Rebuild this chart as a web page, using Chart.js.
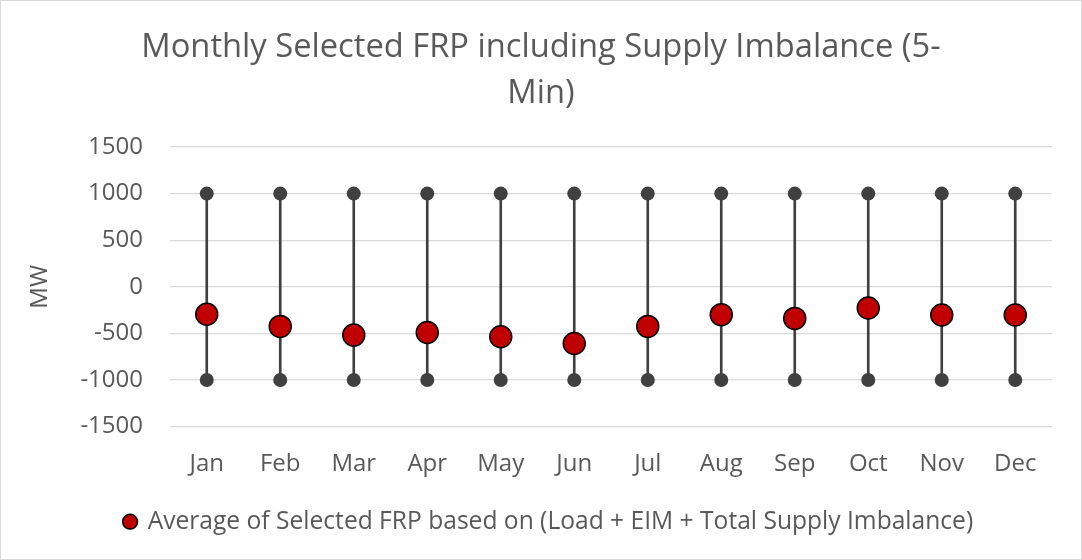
<!DOCTYPE html>
<html>
<head>
<meta charset="utf-8">
<script src="https://cdn.jsdelivr.net/npm/chart.js@4.4.1/dist/chart.umd.min.js"></script>
<style>
  html, body { margin: 0; padding: 0; background: #fff; }
  #wrap { width: 1082px; height: 560px; position: relative; }
</style>
</head>
<body>
<div id="wrap"><canvas id="c" width="1082" height="560"></canvas></div>
<script>
const months = ['Jan','Feb','Mar','Apr','May','Jun','Jul','Aug','Sep','Oct','Nov','Dec'];
const maxValues = [1000, 1000, 1000, 1000, 1000, 1000, 1000, 1000, 1000, 1000, 1000, 1000];
const minValues = [-1000, -1000, -1000, -1000, -1000, -1000, -1000, -1000, -1000, -1000, -1000, -1000];
const avgValues = [-295, -425, -518, -490, -536, -608, -425, -299, -339, -227, -302, -302];
const yTicks = [-1500, -1000, -500, 0, 500, 1000, 1500];

const rangeData = months.map((m, i) => [minValues[i], maxValues[i]]);

const bgBorder = {
  id: 'bgBorder',
  beforeDraw(chart) {
    const ctx = chart.ctx;
    ctx.save();
    ctx.fillStyle = '#ffffff';
    ctx.fillRect(0, 0, chart.width, chart.height);
    ctx.strokeStyle = '#d9d9d9';
    ctx.lineWidth = 1;
    ctx.strokeRect(0.5, 0.5, chart.width - 1, chart.height - 1);
    ctx.restore();
  },
  afterLayout(chart) {
    if (chart.legend) {
      chart.legend.left += 8;
      chart.legend.right += 8;
    }
  }
};

new Chart(document.getElementById('c'), {
  data: {
    labels: months,
    datasets: [
      {
        type: 'line',
        label: 'Average of Selected FRP based on (Load + EIM + Total Supply Imbalance)',
        data: avgValues,
        showLine: false,
        pointRadius: 11,
        pointHoverRadius: 11,
        pointBackgroundColor: '#c00000',
        pointBorderColor: '#000000',
        pointBorderWidth: 1.5,
        backgroundColor: '#c00000',
        borderColor: '#000000',
        borderWidth: 1.5,
        order: 0
      },
      {
        type: 'line',
        label: 'Max',
        data: maxValues,
        showLine: false,
        pointRadius: 7,
        pointBackgroundColor: '#404040',
        pointBorderColor: '#404040',
        pointBorderWidth: 0,
        order: 1
      },
      {
        type: 'line',
        label: 'Min',
        data: minValues,
        showLine: false,
        pointRadius: 7,
        pointBackgroundColor: '#404040',
        pointBorderColor: '#404040',
        pointBorderWidth: 0,
        order: 1
      },
      {
        type: 'bar',
        label: 'Range',
        data: rangeData,
        backgroundColor: '#404040',
        barThickness: 2,
        borderSkipped: false,
        order: 2
      }
    ]
  },
  options: {
    responsive: false,
    animation: false,
    events: [],
    layout: { padding: { left: 30, right: 30, top: 0, bottom: 16 } },
    plugins: {
      title: {
        display: true,
        text: ['Monthly Selected FRP including Supply Imbalance (5-', 'Min)'],
        color: '#595959',
        font: { family: 'Open Sans', size: 32.7, weight: 'normal', lineHeight: 1.407 },
        padding: { top: 24.3, bottom: 30.7 }
      },
      legend: {
        position: 'bottom',
        labels: {
          filter: (item) => item.datasetIndex === 0,
          usePointStyle: true,
          pointStyle: 'circle',
          boxHeight: 10.5,
          boxWidth: 10.5,
          color: '#595959',
          font: { family: 'Open Sans', size: 24.6 },
          padding: 12
        }
      },
      tooltip: { enabled: false }
    },
    scales: {
      x: {
        offset: true,
        grid: { display: false, drawTicks: false },
        border: { display: false },
        afterFit: (scale) => { scale.height = 70.8; },
        ticks: { color: '#595959', font: { family: 'Open Sans', size: 24 }, padding: 23 }
      },
      y: {
        min: -1500,
        max: 1500,
        afterBuildTicks: (scale) => { scale.ticks = yTicks.map(v => ({ value: v })); },
        afterFit: (scale) => { scale.width = 140; },
        grid: { color: '#d9d9d9', lineWidth: 1.3, drawTicks: false },
        border: { display: false },
        ticks: { color: '#595959', font: { family: 'Open Sans', size: 24 }, padding: 27,
                 callback: (v) => String(v) },
        title: {
          display: true,
          text: 'MW',
          color: '#595959',
          font: { family: 'Open Sans', size: 24 },
          padding: { top: -4, bottom: 0 }
        }
      }
    }
  },
  plugins: [bgBorder]
});
</script>
</body>
</html>
